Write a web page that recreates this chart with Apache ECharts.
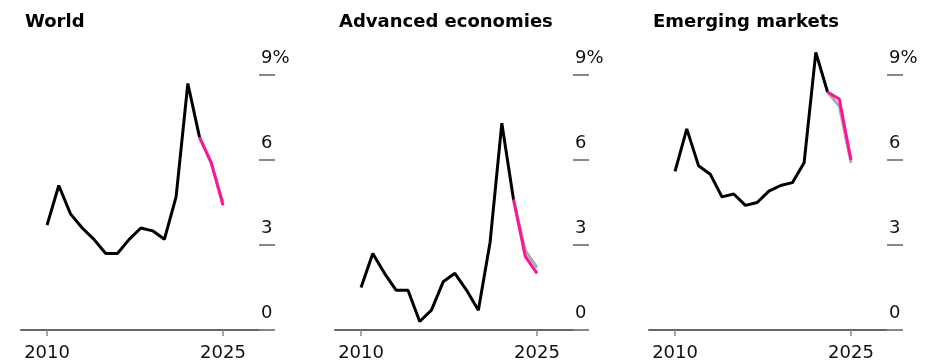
<!DOCTYPE html>
<html>
<head>
<meta charset="utf-8">
<script src="https://cdn.jsdelivr.net/npm/echarts@6/dist/echarts.min.js"></script>
<style>
  html, body { margin: 0; padding: 0; background: #fff; }
  #chart { width: 936px; height: 364px; }
</style>
</head>
<body>
<div id="chart"></div>
<script>
const years = [2010, 2011, 2012, 2013, 2014, 2015, 2016, 2017, 2018, 2019, 2020, 2021, 2022, 2023, 2024, 2025]
const titles = ['World', 'Advanced economies', 'Emerging markets']
const yTicks = [0, 3, 6, 9]
const xTicks = [2010, 2025]

// actual values 2010-2023
const worldActual = [3.7, 5.1, 4.1, 3.6, 3.2, 2.7, 2.7, 3.2, 3.6, 3.5, 3.2, 4.7, 8.7, 6.8]
const advActual = [1.5, 2.7, 2.0, 1.4, 1.4, 0.3, 0.7, 1.7, 2.0, 1.4, 0.7, 3.1, 7.3, 4.6]
const emActual = [5.6, 7.1, 5.8, 5.5, 4.7, 4.8, 4.4, 4.5, 4.9, 5.1, 5.2, 5.9, 9.8, 8.4]

// forecast 2023-2025 (current and previous)
const worldForecast = [6.8, 5.9, 4.4]
const worldPrev = [6.8, 5.9, 4.5]
const advForecast = [4.6, 2.6, 2.0]
const advPrev = [4.6, 2.8, 2.2]
const emForecast = [8.4, 8.15, 6.0]
const emPrev = [8.4, 7.9, 5.9]

const actuals = [worldActual, advActual, emActual]
const forecasts = [worldForecast, advForecast, emForecast]
const prevs = [worldPrev, advPrev, emPrev]

const chart = echarts.init(document.getElementById('chart'))
const font = 'DejaVu Sans'
const panelLeft = [21, 335, 649]

const grid = []
const xAxis = []
const yAxis = []
const series = []
const title = []

panelLeft.forEach((left, i) => {
  grid.push({ left, width: 252, top: 75, height: 255, containLabel: false })
  title.push({
    text: titles[i],
    left: left - 1,
    top: 8,
    textStyle: { fontFamily: font, fontWeight: 'bold', fontSize: 18, color: '#000' },
  })
  xAxis.push({
    type: 'value',
    gridIndex: i,
    min: 2007.78,
    max: 2029.26,
    axisLine: { show: true, lineStyle: { color: '#666', width: 2 } },
    axisTick: { show: true, customValues: xTicks, length: 6, lineStyle: { color: '#888', width: 1.5 } },
    axisLabel: {
      customValues: xTicks,
      margin: 14,
      fontFamily: font,
      fontSize: 18,
      color: '#111',
      formatter: v => String(v),
    },
    splitLine: { show: false },
  })
  yAxis.push({
    type: 'value',
    gridIndex: i,
    position: 'right',
    offset: -14,
    min: yTicks[0],
    max: yTicks[yTicks.length - 1],
    interval: 3,
    axisLine: { show: false },
    axisTick: { show: true, length: 16, lineStyle: { color: '#888', width: 2 } },
    axisLabel: {
      margin: 2,
      align: 'left',
      verticalAlign: 'bottom',
      padding: [0, 0, 8, 0],
      fontFamily: font,
      fontSize: 18,
      color: '#111',
      formatter: v => (v === 9 ? '9%' : String(v)),
    },
    splitLine: { show: false },
  })
  const act = actuals[i].map((v, k) => [years[k], v])
  const fc = forecasts[i].map((v, k) => [years[13 + k], v])
  const pv = prevs[i].map((v, k) => [years[13 + k], v])
  const base = { type: 'line', xAxisIndex: i, yAxisIndex: i, symbol: 'none', clip: false, silent: true }
  series.push({ ...base, data: pv, z: 2, lineStyle: { color: '#aaa', width: 3 } })
  series.push({ ...base, data: act, z: 3, lineStyle: { color: '#000', width: 3 } })
  series.push({ ...base, data: fc, z: 4, lineStyle: { color: '#fc159b', width: 3 } })
})

chart.setOption({
  animation: false,
  title,
  grid,
  xAxis,
  yAxis,
  series,
})
</script>
</body>
</html>
